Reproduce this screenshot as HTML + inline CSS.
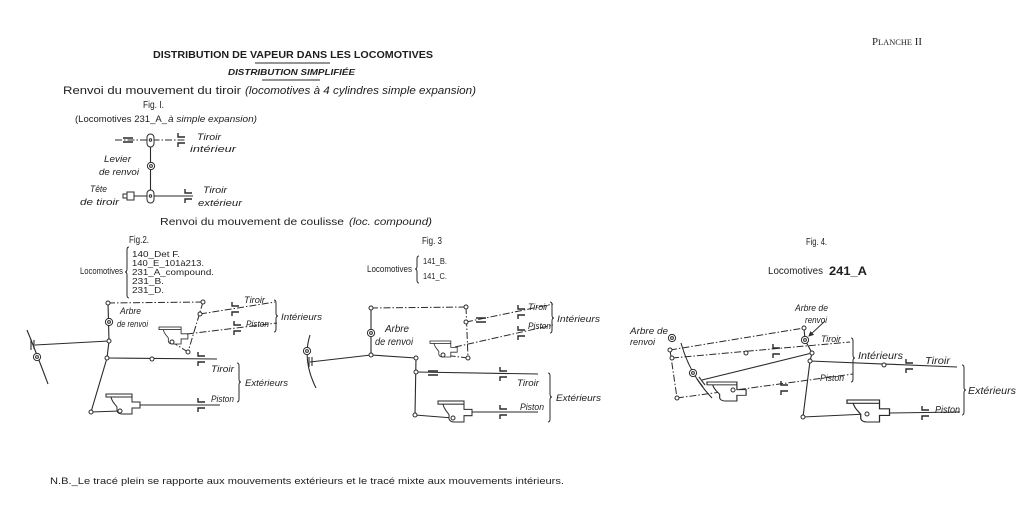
<!DOCTYPE html>
<html>
<head>
<meta charset="utf-8">
<style>
html,body{margin:0;padding:0;background:#fff;}
svg{display:block;}
text{font-family:"Liberation Sans",sans-serif;fill:#1e1e1e;}
.i{font-style:italic;}
.s{stroke:#2a2a2a;stroke-width:1.1;fill:none;}
.d{stroke:#2a2a2a;stroke-width:1;fill:none;stroke-dasharray:7,2,1.5,2;}
.n{fill:#fff;stroke:#2a2a2a;stroke-width:1;}
.b{stroke:#2a2a2a;stroke-width:1;fill:none;}
</style>
</head>
<body>
<svg width="1024" height="522" viewBox="0 0 1024 522" xmlns="http://www.w3.org/2000/svg">
<defs>
  <g id="xh">
    <path d="M5,3 C6,8 9,10 11,13 L11,17 Q12,20 16,20 L26,20 L26,14 L34,14 L34,8 L26,8 L26,3" fill="#fff" stroke="#2a2a2a" stroke-width="1"/>
    <rect x="0" y="0" width="26" height="3" fill="#fff" stroke="#2a2a2a" stroke-width="1"/>
  </g>
  <path id="vv" d="M0,-7 V-3 H7 M0,7 V3 H7" stroke="#2a2a2a" stroke-width="1.4" fill="none"/>
  <path id="eq" d="M0,-2 H10 M0,2 H10" stroke="#2a2a2a" stroke-width="1.6" fill="none"/>
  <g id="dc"><circle r="3.6" class="n" stroke-width="1.3"/><circle r="1.4" class="n"/></g>
  <marker id="ar" markerWidth="6" markerHeight="6" refX="5" refY="3" orient="auto"><path d="M0,0 L6,3 L0,6 z" fill="#2a2a2a"/></marker>
</defs>
<rect width="1024" height="522" fill="#fff"/>

<!-- Header -->
<text x="153" y="58" font-size="10" font-weight="bold" textLength="280" lengthAdjust="spacingAndGlyphs">DISTRIBUTION  DE  VAPEUR  DANS  LES  LOCOMOTIVES</text>
<line x1="255" y1="63" x2="330" y2="63" class="b"/>
<text x="228" y="75" font-size="8" font-weight="bold" class="i" textLength="127" lengthAdjust="spacingAndGlyphs">DISTRIBUTION  SIMPLIFIÉE</text>
<line x1="262" y1="80" x2="320" y2="80" class="b"/>
<text x="63" y="94" font-size="11" textLength="178" lengthAdjust="spacingAndGlyphs">Renvoi du mouvement du tiroir</text>
<text x="245" y="94" font-size="11" class="i" textLength="231" lengthAdjust="spacingAndGlyphs">(locomotives à 4 cylindres simple expansion)</text>
<text x="143" y="108" font-size="10" textLength="21" lengthAdjust="spacingAndGlyphs">Fig. I.</text>
<text x="75" y="122" font-size="9.5" textLength="92" lengthAdjust="spacingAndGlyphs">(Locomotives 231_A_</text>
<text x="168" y="122" font-size="9.5" class="i" textLength="89" lengthAdjust="spacingAndGlyphs">à simple expansion)</text>

<text x="872" y="45" style="font-family:'Liberation Serif',serif" font-size="11" textLength="50" lengthAdjust="spacingAndGlyphs">P<tspan font-size="8.5">LANCHE</tspan> II</text>

<!-- Fig 1 -->
<line x1="115" y1="140" x2="186" y2="140" class="d"/>
<use href="#eq" x="123" y="140"/>
<use href="#vv" x="178" y="140"/>
<line x1="150.5" y1="147" x2="150.5" y2="190" class="s"/>
<rect x="147" y="134" width="7" height="13" rx="3.5" class="n"/>
<circle cx="150.5" cy="140" r="1.2" class="n"/>
<use href="#dc" x="151" y="166"/>
<line x1="134" y1="196" x2="193" y2="196" class="s"/>
<rect x="147" y="190" width="7" height="13" rx="3.5" class="n"/>
<circle cx="150.5" cy="196" r="1.2" class="n"/>
<rect x="127" y="192" width="7" height="8" class="n"/>
<rect x="123" y="194" width="4" height="4" class="n"/>
<use href="#vv" x="185" y="196"/>
<text x="197" y="140" font-size="9.5" class="i" textLength="24" lengthAdjust="spacingAndGlyphs">Tiroir</text>
<text x="190" y="152" font-size="9.5" class="i" textLength="46" lengthAdjust="spacingAndGlyphs">intérieur</text>
<text x="104" y="162" font-size="9.5" class="i" textLength="27" lengthAdjust="spacingAndGlyphs">Levier</text>
<text x="99" y="175" font-size="9.5" class="i" textLength="40" lengthAdjust="spacingAndGlyphs">de renvoi</text>
<text x="90" y="192" font-size="9.5" class="i" textLength="17" lengthAdjust="spacingAndGlyphs">Tête</text>
<text x="80" y="205" font-size="9.5" class="i" textLength="39" lengthAdjust="spacingAndGlyphs">de tiroir</text>
<text x="203" y="193" font-size="9.5" class="i" textLength="24" lengthAdjust="spacingAndGlyphs">Tiroir</text>
<text x="198" y="206" font-size="9.5" class="i" textLength="44" lengthAdjust="spacingAndGlyphs">extérieur</text>

<text x="160" y="225" font-size="10.5" textLength="184" lengthAdjust="spacingAndGlyphs">Renvoi  du  mouvement  de  coulisse</text>
<text x="349" y="225" font-size="10.5" class="i" textLength="83" lengthAdjust="spacingAndGlyphs">(loc. compound)</text>

<!-- Fig 2 -->
<text x="129" y="243" font-size="10" textLength="20" lengthAdjust="spacingAndGlyphs">Fig.2.</text>
<text x="80" y="274" font-size="9.5" textLength="43" lengthAdjust="spacingAndGlyphs">Locomotives</text>
<path d="M129,247 Q127,247 127,250 L127,269 Q127,272 125,272 Q127,272 127,275 L127,295 Q127,298 129,298" class="b"/>
<text x="132" y="257" font-size="8.5" textLength="48" lengthAdjust="spacingAndGlyphs">140_Det F.</text>
<text x="132" y="266" font-size="8.5" textLength="72" lengthAdjust="spacingAndGlyphs">140_E_101à213.</text>
<text x="132" y="275" font-size="8.5" textLength="82" lengthAdjust="spacingAndGlyphs">231_A_compound.</text>
<text x="132" y="284" font-size="8.5" textLength="32" lengthAdjust="spacingAndGlyphs">231_B.</text>
<text x="132" y="293" font-size="8.5" textLength="32" lengthAdjust="spacingAndGlyphs">231_D.</text>

<line x1="108" y1="303" x2="203" y2="302" class="d"/>
<line x1="108" y1="303" x2="109" y2="341" class="s"/>
<use href="#dc" x="109" y="322"/>
<line x1="35" y1="345" x2="109" y2="341" class="s"/>
<path d="M31,339 V350 M34,340 V349" class="s"/>
<path d="M27,330 Q36,352 48,384" class="s"/>
<use href="#dc" x="37" y="357"/>
<line x1="109" y1="341" x2="107" y2="358" class="s"/>
<line x1="107" y1="358" x2="217" y2="359" class="s"/>
<use href="#vv" x="198" y="359"/>
<line x1="107" y1="358" x2="91" y2="412" class="s"/>
<line x1="91" y1="412" x2="120" y2="411" class="s"/>
<use href="#xh" x="106" y="394"/>
<line x1="140" y1="405" x2="220" y2="405" class="s"/>
<use href="#vv" x="198" y="405"/>
<line x1="203" y1="302" x2="188" y2="352" class="d"/>
<line x1="188" y1="352" x2="172" y2="342" class="d"/>
<use href="#xh" transform="translate(159,327) scale(0.85)"/>
<line x1="200" y1="314" x2="275" y2="302" class="d"/>
<use href="#vv" x="232" y="309"/>
<line x1="187" y1="334" x2="277" y2="323" class="d"/>
<use href="#vv" x="234" y="328"/>
<circle cx="108" cy="303" r="2" class="n"/>
<circle cx="203" cy="302" r="2" class="n"/>
<circle cx="109" cy="341" r="2" class="n"/>
<circle cx="107" cy="358" r="2" class="n"/>
<circle cx="152" cy="359" r="2" class="n"/>
<circle cx="91" cy="412" r="2" class="n"/>
<circle cx="120" cy="411" r="2" class="n"/>
<circle cx="200" cy="314" r="2" class="n"/>
<circle cx="188" cy="352" r="2" class="n"/>
<circle cx="172" cy="342" r="2" class="n"/>
<text x="120" y="314" font-size="9.5" class="i" textLength="21" lengthAdjust="spacingAndGlyphs">Arbre</text>
<text x="117" y="327" font-size="9.5" class="i" textLength="31" lengthAdjust="spacingAndGlyphs">de renvoi</text>
<text x="244" y="303" font-size="9.5" class="i" textLength="21" lengthAdjust="spacingAndGlyphs">Tiroir</text>
<text x="246" y="327" font-size="9.5" class="i" textLength="23" lengthAdjust="spacingAndGlyphs">Piston</text>
<path d="M274,300 Q276,300 276,303 L276,313 Q276,316 278,316 Q276,316 276,319 L276,329 Q276,332 274,332" class="b"/>
<text x="281" y="320" font-size="9.5" class="i" textLength="41" lengthAdjust="spacingAndGlyphs">Intérieurs</text>
<text x="211" y="372" font-size="9.5" class="i" textLength="23" lengthAdjust="spacingAndGlyphs">Tiroir</text>
<text x="211" y="402" font-size="9.5" class="i" textLength="23" lengthAdjust="spacingAndGlyphs">Piston</text>
<path d="M237,363 Q239,363 239,366 L239,379 Q239,382 241,382 Q239,382 239,385 L239,399 Q239,402 237,402" class="b"/>
<text x="245" y="386" font-size="9.5" class="i" textLength="43" lengthAdjust="spacingAndGlyphs">Extérieurs</text>

<!-- Fig 3 -->
<text x="422" y="244" font-size="10" textLength="20" lengthAdjust="spacingAndGlyphs">Fig. 3</text>
<text x="367" y="272" font-size="9.5" textLength="45" lengthAdjust="spacingAndGlyphs">Locomotives</text>
<path d="M419,256 Q417,256 417,259 L417,266 Q417,269 415,269 Q417,269 417,272 L417,280 Q417,283 419,283" class="b"/>
<text x="423" y="264" font-size="8.5" textLength="24" lengthAdjust="spacingAndGlyphs">141_B.</text>
<text x="423" y="279" font-size="8.5" textLength="24" lengthAdjust="spacingAndGlyphs">141_C.</text>

<line x1="371" y1="308" x2="466" y2="307" class="d"/>
<line x1="371" y1="308" x2="371" y2="355" class="s"/>
<use href="#dc" x="371" y="333"/>
<path d="M310,335 Q302,360 316,388" class="s"/>
<use href="#dc" x="307" y="351"/>
<line x1="310" y1="362" x2="371" y2="355" class="s"/>
<path d="M309,357 V367 M312,357 V366" class="s"/>
<line x1="371" y1="355" x2="416" y2="358" class="s"/>
<line x1="416" y1="358" x2="415" y2="415" class="s"/>
<line x1="416" y1="372" x2="538" y2="374" class="s"/>
<use href="#eq" x="428" y="373"/>
<use href="#vv" x="500" y="374"/>
<line x1="415" y1="415" x2="453" y2="418" class="s"/>
<use href="#xh" transform="translate(438,401) scale(1,1.05)"/>
<line x1="472" y1="412" x2="538" y2="412" class="s"/>
<use href="#vv" x="500" y="412"/>
<line x1="466" y1="307" x2="468" y2="358" class="d"/>
<line x1="468" y1="358" x2="443" y2="355" class="d"/>
<use href="#xh" transform="translate(430,341) scale(0.8)"/>
<line x1="466" y1="322" x2="553" y2="304" class="d"/>
<use href="#eq" x="476" y="320"/>
<use href="#vv" x="518" y="312"/>
<line x1="455" y1="347" x2="553" y2="325" class="d"/>
<use href="#vv" x="518" y="333"/>
<circle cx="371" cy="308" r="2" class="n"/>
<circle cx="466" cy="307" r="2" class="n"/>
<circle cx="371" cy="355" r="2" class="n"/>
<circle cx="416" cy="358" r="2" class="n"/>
<circle cx="416" cy="372" r="2" class="n"/>
<circle cx="415" cy="415" r="2" class="n"/>
<circle cx="453" cy="418" r="2" class="n"/>
<circle cx="466" cy="322" r="2" class="n"/>
<circle cx="468" cy="358" r="2" class="n"/>
<circle cx="443" cy="355" r="2" class="n"/>
<text x="385" y="332" font-size="10" class="i" textLength="24" lengthAdjust="spacingAndGlyphs">Arbre</text>
<text x="375" y="345" font-size="10" class="i" textLength="38" lengthAdjust="spacingAndGlyphs">de renvoi</text>
<text x="528" y="310" font-size="9.5" class="i" textLength="20" lengthAdjust="spacingAndGlyphs">Tiroir</text>
<text x="528" y="329" font-size="9.5" class="i" textLength="23" lengthAdjust="spacingAndGlyphs">Piston</text>
<path d="M550,302 Q552,302 552,305 L552,315 Q552,318 554,318 Q552,318 552,321 L552,330 Q552,333 550,333" class="b"/>
<text x="557" y="322" font-size="9.5" class="i" textLength="43" lengthAdjust="spacingAndGlyphs">Intérieurs</text>
<text x="517" y="386" font-size="9.5" class="i" textLength="22" lengthAdjust="spacingAndGlyphs">Tiroir</text>
<text x="520" y="410" font-size="9.5" class="i" textLength="24" lengthAdjust="spacingAndGlyphs">Piston</text>
<path d="M548,373 Q550,373 550,376 L550,394 Q550,397 552,397 Q550,397 550,400 L550,419 Q550,422 548,422" class="b"/>
<text x="556" y="401" font-size="9.5" class="i" textLength="45" lengthAdjust="spacingAndGlyphs">Extérieurs</text>

<!-- Fig 4 -->
<text x="806" y="245" font-size="10" textLength="21" lengthAdjust="spacingAndGlyphs">Fig. 4.</text>
<text x="768" y="274" font-size="10" textLength="55" lengthAdjust="spacingAndGlyphs">Locomotives</text>
<text x="829" y="275" font-size="12" font-weight="bold" textLength="38" lengthAdjust="spacingAndGlyphs">241_A</text>

<line x1="670" y1="350" x2="804" y2="328" class="d"/>
<line x1="670" y1="350" x2="677" y2="398" class="d"/>
<line x1="672" y1="358" x2="850" y2="342" class="d"/>
<use href="#vv" x="773" y="351"/>
<line x1="677" y1="398" x2="853" y2="374" class="d"/>
<use href="#vv" x="781" y="388"/>
<use href="#xh" transform="translate(707,382) scale(1.15,0.95)"/>
<path d="M681,343 Q690,375 712,398" class="s"/>
<use href="#dc" x="693" y="373"/>
<path d="M697,379 L703,387 M699,377 L705,385" class="s"/>
<line x1="702" y1="380" x2="812" y2="353" class="s"/>
<polyline points="804,328 805,340 812,353 810,361 803,417" class="s"/>
<use href="#dc" x="805" y="340"/>
<line x1="810" y1="361" x2="957" y2="367" class="s"/>
<use href="#vv" x="906" y="366"/>
<line x1="803" y1="417" x2="867" y2="414" class="s"/>
<use href="#xh" transform="translate(847,400) scale(1.25,1.1)"/>
<line x1="890" y1="413" x2="960" y2="412" class="s"/>
<use href="#vv" x="922" y="413"/>
<line x1="825" y1="321" x2="809" y2="336" stroke="#2a2a2a" stroke-width="0.9" marker-end="url(#ar)"/>
<use href="#dc" x="672" y="338"/>
<circle cx="670" cy="350" r="2" class="n"/>
<circle cx="672" cy="358" r="2" class="n"/>
<circle cx="677" cy="398" r="2" class="n"/>
<circle cx="746" cy="353" r="2" class="n"/>
<circle cx="804" cy="328" r="2" class="n"/>
<circle cx="812" cy="353" r="2" class="n"/>
<circle cx="810" cy="361" r="2" class="n"/>
<circle cx="884" cy="365" r="2" class="n"/>
<circle cx="803" cy="417" r="2" class="n"/>
<circle cx="867" cy="414" r="2" class="n"/>
<circle cx="733" cy="390" r="2" class="n"/>
<text x="630" y="334" font-size="9.5" class="i" textLength="38" lengthAdjust="spacingAndGlyphs">Arbre de</text>
<text x="630" y="345" font-size="9.5" class="i" textLength="25" lengthAdjust="spacingAndGlyphs">renvoi</text>
<text x="795" y="311" font-size="9.5" class="i" textLength="33" lengthAdjust="spacingAndGlyphs">Arbre de</text>
<text x="805" y="323" font-size="9.5" class="i" textLength="22" lengthAdjust="spacingAndGlyphs">renvoi</text>
<text x="821" y="342" font-size="9.5" class="i" textLength="20" lengthAdjust="spacingAndGlyphs">Tiroir</text>
<text x="820" y="381" font-size="9.5" class="i" textLength="24" lengthAdjust="spacingAndGlyphs">Piston</text>
<path d="M851,338 Q853,338 853,341 L853,355 Q853,358 855,358 Q853,358 853,361 L853,379 Q853,382 851,382" class="b"/>
<text x="858" y="359" font-size="10" class="i" textLength="45" lengthAdjust="spacingAndGlyphs">Intérieurs</text>
<text x="925" y="364" font-size="10" class="i" textLength="25" lengthAdjust="spacingAndGlyphs">Tiroir</text>
<text x="935" y="413" font-size="10" class="i" textLength="25" lengthAdjust="spacingAndGlyphs">Piston</text>
<path d="M962,365 Q964,365 964,368 L964,387 Q964,390 966,390 Q964,390 964,393 L964,412 Q964,415 962,415" class="b"/>
<text x="968" y="394" font-size="10" class="i" textLength="48" lengthAdjust="spacingAndGlyphs">Extérieurs</text>

<!-- Note -->
<text x="50" y="484" font-size="9.5" textLength="514" lengthAdjust="spacingAndGlyphs">N.B._Le tracé plein se rapporte aux mouvements extérieurs et le tracé mixte aux mouvements intérieurs.</text>
</svg>
</body>
</html>
